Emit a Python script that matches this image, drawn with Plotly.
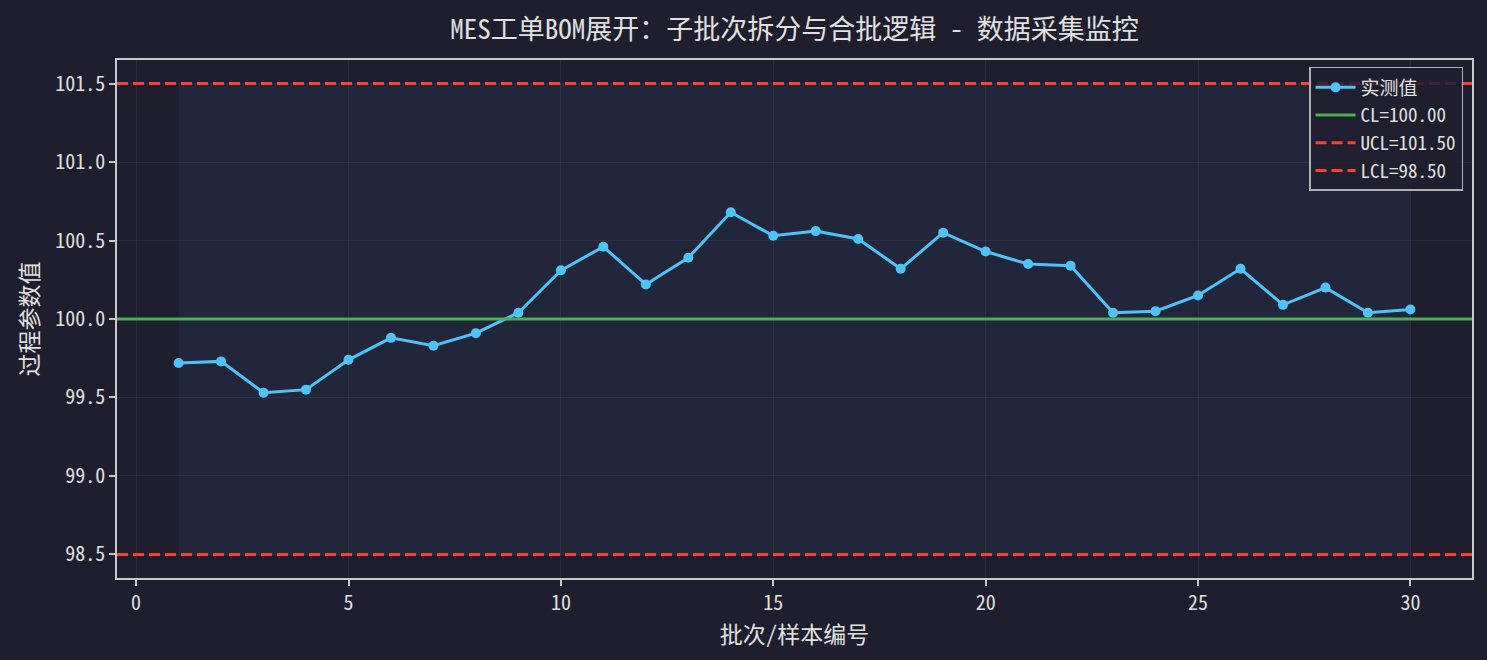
import plotly.graph_objects as go

# 批次编号与实测值
batch_no = list(range(1, 31))
measured = [
    99.72, 99.73, 99.53, 99.55, 99.74, 99.88, 99.83, 99.91, 100.04, 100.31,
    100.46, 100.22, 100.39, 100.68, 100.53, 100.56, 100.51, 100.32, 100.55, 100.43,
    100.35, 100.34, 100.04, 100.05, 100.15, 100.32, 100.09, 100.20, 100.04, 100.06,
]

CL = 100.00
UCL = 101.50
LCL = 98.50

x_ticks = [0, 5, 10, 15, 20, 25, 30]
y_ticks = [98.5, 99.0, 99.5, 100.0, 100.5, 101.0, 101.5]

BG = "#1e1e2e"
TEXT = "#e0e0e0"
SPINE = "#c8c8c8"
FONT = "Noto Sans Mono CJK SC, Noto Sans CJK SC, DejaVu Sans Mono"

x_pad = (max(batch_no) - min(batch_no)) * 0.05
y_pad = (UCL - LCL) * 0.05

fig = go.Figure()

# 监控区域底色
fig.add_shape(
    type="rect",
    x0=min(batch_no), x1=max(batch_no), y0=LCL, y1=UCL,
    fillcolor="rgba(60,90,150,0.13)", line=dict(width=0), layer="below",
)

fig.add_trace(
    go.Scatter(
        x=batch_no,
        y=measured,
        mode="lines+markers",
        name="实测值",
        line=dict(color="#4fc3f7", width=3),
        marker=dict(size=10, color="#4fc3f7"),
    )
)

fig.add_hline(
    y=CL, line=dict(color="#4caf50", width=3),
    showlegend=True, name=f"CL={CL:.2f}",
)
fig.add_hline(
    y=UCL, line=dict(color="#f44336", width=3, dash="11px,5px"),
    showlegend=True, name=f"UCL={UCL:.2f}",
)
fig.add_hline(
    y=LCL, line=dict(color="#f44336", width=3, dash="11px,5px"),
    showlegend=True, name=f"LCL={LCL:.2f}",
)

axis_common = dict(
    showline=True,
    linecolor=SPINE,
    linewidth=1.5,
    mirror=True,
    ticks="outside",
    ticklen=6,
    tickcolor=SPINE,
    tickwidth=1.5,
    showgrid=True,
    gridcolor="rgba(255,255,255,0.06)",
    gridwidth=1,
    zeroline=False,
    tickfont=dict(size=20, color=TEXT, family=FONT),
)

fig.update_xaxes(
    **axis_common,
    range=[min(batch_no) - x_pad, max(batch_no) + x_pad],
    tickvals=x_ticks,
    ticktext=[str(t) for t in x_ticks],
    title=dict(text="批次/样本编号", font=dict(size=23, color=TEXT, family=FONT), standoff=8),
)
fig.update_yaxes(
    **axis_common,
    range=[LCL - y_pad, UCL + y_pad],
    tickvals=y_ticks,
    ticktext=[f"{t:.1f}" for t in y_ticks],
    title=dict(text="过程参数值", font=dict(size=23, color=TEXT, family=FONT), standoff=10),
)

fig.update_layout(
    width=1487,
    height=660,
    paper_bgcolor=BG,
    plot_bgcolor=BG,
    margin=dict(l=117, r=15, t=60, b=82),
    font=dict(family=FONT, color=TEXT),
    title=dict(
        text="MES工单BOM展开：子批次拆分与合批逻辑 - 数据采集监控",
        xref="paper", x=0.5, xanchor="center",
        yref="container", y=0.955, yanchor="middle",
        font=dict(size=27, color=TEXT, family=FONT),
    ),
    legend=dict(
        x=0.9934, y=0.9865, xanchor="right", yanchor="top",
        bgcolor="rgba(30,30,46,0.85)",
        bordercolor="#b0b0b0",
        borderwidth=1.5,
        font=dict(size=19, color=TEXT, family=FONT),
        itemwidth=40,
        tracegroupgap=0,
    ),
)

fig.write_html(
    "out.html",
    config={"displayModeBar": False},
    post_script="document.body.style.margin='0';document.body.style.background='#1e1e2e';",
)
